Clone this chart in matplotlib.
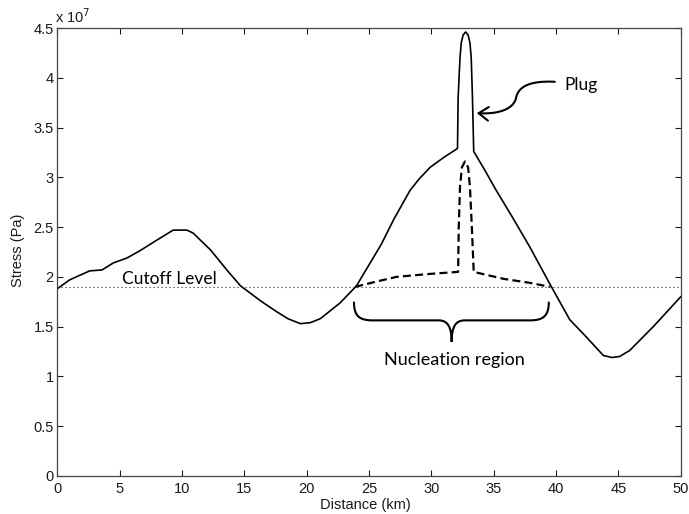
import numpy as np
import matplotlib
matplotlib.use("Agg")
import matplotlib.pyplot as plt
from matplotlib.path import Path
from matplotlib.patches import PathPatch, FancyArrowPatch

# stress values are in units of 1e7 Pa
dist_solid = [0, 1.0, 2.6, 3.6, 4.5, 5.6, 6.6, 8.0, 9.3, 10.4, 10.9, 12.3, 13.6,
              14.7, 16.3, 17.6, 18.5, 19.5, 20.3, 21.1, 22.7, 24.0, 25.0, 26.0,
              27.0, 28.3, 29.0, 29.9, 31.0, 32.1,
              32.15, 32.3, 32.4, 32.55, 32.75, 32.95, 33.1, 33.2, 33.3, 33.4,
              34.3, 35.2, 36.5, 37.9, 39.5, 41.1, 42.4, 43.8, 44.5, 45.1, 45.9,
              47.8, 50.0]
stress_solid = [1.88, 1.97, 2.06, 2.07, 2.14, 2.19, 2.26, 2.37, 2.47, 2.47, 2.44, 2.27, 2.07,
                1.91, 1.76, 1.65, 1.58, 1.53, 1.54, 1.58, 1.74, 1.91, 2.12, 2.33,
                2.58, 2.87, 2.98, 3.10, 3.20, 3.29,
                3.80, 4.20, 4.35, 4.43, 4.46, 4.43, 4.35, 4.20, 3.80, 3.26,
                3.07, 2.87, 2.60, 2.30, 1.93, 1.57, 1.40, 1.21, 1.19, 1.20, 1.26,
                1.50, 1.80]

dist_dash = [23.9, 25.5, 27.2, 29.9, 32.15, 32.2, 32.3, 32.45, 32.7, 32.95, 33.1,
             33.25, 33.4, 35.8, 37.9, 39.5]
stress_dash = [1.90, 1.95, 2.00, 2.03, 2.05, 2.50, 2.90, 3.10, 3.16, 3.10, 2.90,
               2.50, 2.05, 1.98, 1.94, 1.90]

cutoff = 1.895
xticks = list(range(0, 51, 5))
yticks = [0, 0.5, 1, 1.5, 2, 2.5, 3, 3.5, 4, 4.5]

fig = plt.figure(figsize=(6.89, 5.14), dpi=100)
ax = fig.add_axes([0.083, 0.074, 0.905, 0.8715])

ax.plot(dist_solid, stress_solid, color='black', lw=1.2)
ax.plot(dist_dash, stress_dash, color='black', lw=1.6, dashes=(3.6, 1.9))
ax.axhline(cutoff, color='#222222', lw=0.8, linestyle=(0, (1, 2.6)))

ax.set_xlim(0, 50)
ax.set_ylim(0, 4.5)
ax.set_xticks(xticks)
ax.set_yticks(yticks)
ax.set_yticklabels(['%g' % v for v in yticks])
ax.tick_params(direction='in', length=4, width=0.8, top=True, right=True,
               labelsize=10.5, colors='#1a1a1a')
ax.tick_params(axis='x', pad=4)
ax.tick_params(axis='y', pad=2.5)
for sp in ax.spines.values():
    sp.set_color('#444444')
    sp.set_linewidth(0.9)

ax.set_xlabel('Distance (km)', fontsize=10.5, family='Liberation Sans', color='#1a1a1a')
ax.set_ylabel('Stress (Pa)', fontsize=10.5, family='Liberation Sans', color='#1a1a1a')
ax.xaxis.set_label_coords(0.494, -0.05)
ax.yaxis.set_label_coords(-0.052, 0.503)
for lab in ax.get_xticklabels() + ax.get_yticklabels():
    lab.set_family('Liberation Sans')
ax.text(-0.003, 1.012, r'x 10$^{7}$', transform=ax.transAxes, fontsize=10.5,
        family='Liberation Sans', color='#1a1a1a', va='baseline', ha='left')

# annotations
ax.text(5.18, 1.93, 'Cutoff Level', family='Lato', fontsize=12.5, va='baseline')
ax.text(31.81, 1.112, 'Nucleation region', family='Lato', fontsize=13,
        ha='center', va='baseline')
ax.text(40.7, 3.875, 'Plug', family='Lato', fontsize=12.5, va='baseline')

# curly brace under nucleation region
brace_verts = [(23.8, 1.743), (23.8, 1.60), (24.3, 1.563), (25.3, 1.563),
               (30.6, 1.563),
               (31.3, 1.563), (31.63, 1.50), (31.63, 1.346),
               (31.63, 1.50), (31.96, 1.563), (32.66, 1.563),
               (37.9, 1.563),
               (38.9, 1.563), (39.42, 1.60), (39.42, 1.743)]
brace_codes = [Path.MOVETO, Path.CURVE4, Path.CURVE4, Path.CURVE4,
               Path.LINETO,
               Path.CURVE4, Path.CURVE4, Path.CURVE4,
               Path.CURVE4, Path.CURVE4, Path.CURVE4,
               Path.LINETO,
               Path.CURVE4, Path.CURVE4, Path.CURVE4]
ax.add_patch(PathPatch(Path(brace_verts, brace_codes), fill=False, lw=1.5,
                       color='black', capstyle='round'))

# wavy arrow pointing to the plug
def bez(p0, p1, p2, p3, n=30):
    t = np.linspace(0, 1, n)[:, None]
    p0, p1, p2, p3 = map(np.array, (p0, p1, p2, p3))
    return (1 - t) ** 3 * p0 + 3 * (1 - t) ** 2 * t * p1 + 3 * (1 - t) * t ** 2 * p2 + t ** 3 * p3

seg1 = bez((39.9, 3.96), (38.2, 3.97), (37.0, 3.93), (36.8, 3.80))
seg2 = bez((36.8, 3.80), (36.6, 3.68), (35.3, 3.63), (33.65, 3.645))
pts = np.vstack([seg1, seg2[1:]])
arrow = FancyArrowPatch(path=Path(pts), arrowstyle='->,head_length=0.5,head_width=0.35',
                        mutation_scale=14, lw=1.5, color='black')
ax.add_patch(arrow)

fig.savefig('out.png', dpi=100)
